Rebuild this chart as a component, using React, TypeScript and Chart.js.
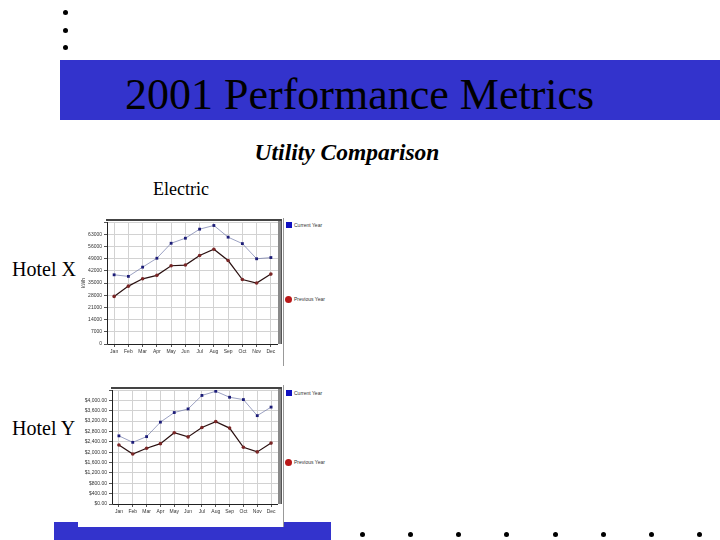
import Chart from "chart.js/auto";
import { useEffect, useRef } from "react";

const months = ["Jan", "Feb", "Mar", "Apr", "May", "Jun", "Jul", "Aug", "Sep", "Oct", "Nov", "Dec"];

// Hotel X electric use, kWh
const hotelXCurrent = [39700, 38800, 44100, 49200, 57800, 60700, 65900, 68000, 61300, 57600, 48900, 49600];
const hotelXPrevious = [27300, 33200, 37400, 39400, 44900, 45300, 50800, 54400, 47900, 37000, 35000, 40100];

// Hotel Y electric cost, $
const hotelYCurrent = [2630, 2380, 2600, 3160, 3530, 3670, 4190, 4350, 4120, 4030, 3410, 3740];
const hotelYPrevious = [2280, 1930, 2150, 2330, 2750, 2590, 2950, 3180, 2930, 2190, 2010, 2350];

const seriesNames = ["Current Year", "Previous Year"];

const tinyFont = { family: "'Liberation Sans', Arial, sans-serif", size: 5 };

// fake 3D frame round the plot, like the old chart image
const framePlugin = {
  id: "frame3d",
  afterDraw(chart: any) {
    const { ctx, chartArea: a } = chart;
    ctx.save();
    ctx.fillStyle = "#8a8a8a";
    ctx.fillRect(a.right, a.top - 2, 4, a.bottom - a.top + 2);
    ctx.fillStyle = "#555";
    ctx.fillRect(a.right + 3, a.top - 2, 1, a.bottom - a.top + 2);
    ctx.fillStyle = "#444";
    ctx.fillRect(a.left - 1, a.top - 3, a.right - a.left + 5, 2);
    ctx.strokeStyle = "#222";
    ctx.lineWidth = 1;
    ctx.beginPath();
    ctx.moveTo(a.left + 0.5, a.top);
    ctx.lineTo(a.left + 0.5, a.bottom + 0.5);
    ctx.lineTo(a.right, a.bottom + 0.5);
    ctx.stroke();
    ctx.restore();
  },
};

function PerfChart({
  current,
  previous,
  max,
  step,
  yWidth,
  yTitle,
  money,
}: {
  current: number[];
  previous: number[];
  max: number;
  step: number;
  yWidth: number;
  yTitle?: string;
  money?: boolean;
}) {
  const ref = useRef<HTMLCanvasElement>(null);

  useEffect(() => {
    if (!ref.current) return;
    const chart = new Chart(ref.current, {
      type: "line",
      plugins: [framePlugin],
      data: {
        labels: months,
        datasets: [
          {
            label: seriesNames[0],
            data: current,
            borderColor: "#7078a8",
            borderWidth: 0.7,
            pointStyle: "rect",
            pointRadius: 2,
            pointBackgroundColor: "#1c1c78",
            pointBorderColor: "#1c1c78",
            pointBorderWidth: 0,
          },
          {
            label: seriesNames[1],
            data: previous,
            borderColor: "#2a1010",
            borderWidth: 1.2,
            pointStyle: "circle",
            pointRadius: 1.8,
            pointBackgroundColor: "#7a2626",
            pointBorderColor: "#7a2626",
            pointBorderWidth: 0,
          },
        ],
      },
      options: {
        animation: false,
        responsive: true,
        maintainAspectRatio: false,
        layout: { padding: { top: 6, right: 5, left: 0, bottom: 0 } },
        plugins: { legend: { display: false }, tooltip: { enabled: false } },
        scales: {
          x: {
            offset: true,
            afterFit: (s: any) => {
              s.height = 14;
            },
            grid: { offset: false, color: "#d2d2d2", tickLength: 3, tickColor: "#555" },
            border: { display: false },
            ticks: { font: tinyFont, color: "#333", padding: 2, maxRotation: 0, autoSkip: false },
          },
          y: {
            min: 0,
            max,
            afterFit: (s: any) => {
              s.width = yWidth;
            },
            title: yTitle
              ? { display: true, text: yTitle, font: tinyFont, color: "#333", padding: 1 }
              : { display: false },
            grid: { color: "#d2d2d2", tickLength: 3, tickColor: "#555" },
            border: { display: false },
            ticks: {
              stepSize: step,
              font: tinyFont,
              color: "#333",
              padding: 2,
              callback: (v: any, i: number, ticks: any[]) => {
                if (i === ticks.length - 1) return "";
                const n = Number(v);
                return money
                  ? "$" + n.toLocaleString("en-US", { minimumFractionDigits: 2, maximumFractionDigits: 2 })
                  : String(n);
              },
            },
          },
        },
      },
    });
    return () => {
      chart.destroy();
    };
  }, [current, previous, max, step, yWidth, yTitle, money]);

  return <canvas ref={ref}></canvas>;
}

const abs = (l: number, t: number, w: number, h: number): React.CSSProperties => ({
  position: "absolute",
  left: l,
  top: t,
  width: w,
  height: h,
});

function Legend({ top, mid }: { top: number; mid: number }) {
  const text: React.CSSProperties = {
    position: "absolute",
    left: 294,
    fontFamily: "'Liberation Sans', Arial, sans-serif",
    fontSize: 5,
    lineHeight: "6px",
    color: "#333",
    whiteSpace: "nowrap",
  };
  return (
    <>
      <div style={{ ...abs(286, top - 3, 6, 6), background: "#1010c0" }} />
      <div style={{ ...text, top: top - 3 }}>{seriesNames[0]}</div>
      <div style={{ ...abs(285, mid - 3.5, 7, 7), background: "#b81818", borderRadius: "50%" }} />
      <div style={{ ...text, top: mid - 3 }}>{seriesNames[1]}</div>
    </>
  );
}

const Dot = ({ x, y }: { x: number; y: number }) => (
  <div style={{ ...abs(x - 2.5, y - 2.5, 5, 5), background: "#000", borderRadius: "50%" }} />
);

export default function App() {
  const serif = "'Liberation Serif', 'Times New Roman', serif";
  const bottomDots = [362, 410, 458, 506, 555, 603, 651, 699];
  return (
    <div
      style={{
        position: "fixed",
        left: 0,
        top: 0,
        width: 720,
        height: 540,
        overflow: "hidden",
        background: "#fff",
        fontFamily: serif,
      }}
    >
      <Dot x={65} y={12} />
      <Dot x={65} y={30} />
      <Dot x={65} y={47} />

      <div style={{ ...abs(60, 60, 660, 60), background: "#3333cc" }} />
      <div style={{ ...abs(125, 70, 580, 50), fontSize: 44, lineHeight: "50px", color: "#000", whiteSpace: "nowrap" }}>
        2001 Performance Metrics
      </div>

      <div style={{ ...abs(197, 138, 300, 28), fontSize: 23.5, lineHeight: "28px", fontWeight: "bold", fontStyle: "italic", textAlign: "center" }}>
        Utility Comparison
      </div>
      <div style={{ ...abs(153, 178, 100, 22), fontSize: 18, lineHeight: "22px" }}>Electric</div>

      <div style={{ ...abs(12, 257, 80, 24), fontSize: 20, lineHeight: "24px" }}>Hotel X</div>
      <div style={{ ...abs(12, 416, 80, 24), fontSize: 20, lineHeight: "24px" }}>Hotel Y</div>

      <div style={{ ...abs(54, 522, 277, 18), background: "#3333cc" }} />
      <div style={{ ...abs(78, 520, 205, 7), background: "#fff" }} />
      {bottomDots.map((x) => (
        <Dot key={x} x={x} y={534} />
      ))}

      <div style={abs(80, 216, 203, 142)}>
        <PerfChart current={hotelXCurrent} previous={hotelXPrevious} max={70000} step={7000} yWidth={27} yTitle="kWh" />
      </div>
      <div style={{ ...abs(283, 218, 1, 148), background: "#999" }} />
      <Legend top={225} mid={299} />

      <div style={abs(80, 384, 203, 134)}>
        <PerfChart current={hotelYCurrent} previous={hotelYPrevious} max={4400} step={400} yWidth={32} money />
      </div>
      <div style={{ ...abs(283, 385, 1, 142), background: "#999" }} />
      <Legend top={393} mid={462} />
    </div>
  );
}
